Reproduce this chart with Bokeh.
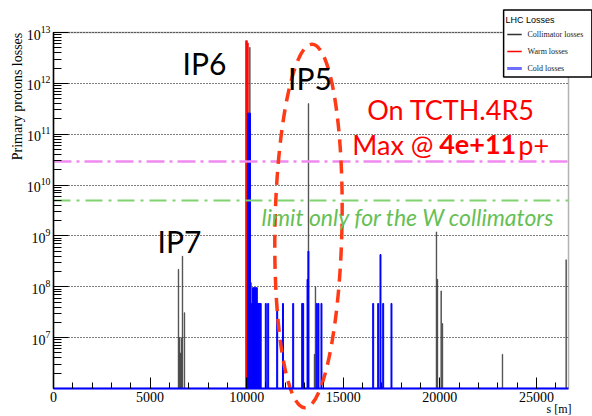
import math
from bokeh.plotting import figure
from bokeh.models import (Range1d, LogTicker, SingleIntervalTicker, Label,
                          BoxAnnotation)
from bokeh.embed import file_html
from bokeh.resources import INLINE

# ---------------- data ----------------
S_MAX = 26659          # ring length [m]
BIN_W = 50             # histogram bin width [m]
Y_LO, Y_HI = 1e6, 1e13 # plotted loss range

# collimator losses (s [m], protons)
coll_s = [6470, 6522, 6574, 6625, 6677, 6780, 10165, 13199, 13509, 13561,
          19824, 19876, 20067, 20135, 23241, 26537]
coll_v = [2.2e8, 1.0e7, 5.0e6, 1.0e7, 4.0e8, 3.1e7, 5.1e12, 4.0e11, 4.7e6, 1.0e8,
          1.2e9, 1.4e8, 8.3e7, 1.9e7, 4.7e6, 3.4e8]

# warm losses
warm_s = [9965, 10015, 10065, 10225]
warm_v = [6.9e12, 6.9e12, 6.2e12, 1.2e8]

# cold losses
cold_s = [10070, 10120, 10170,
          10275, 10325, 10375, 10425, 10475, 10525, 10575, 10625, 10675, 10725,
          10989, 11113, 11579, 11879, 12407, 12873, 12925, 13150, 13195,
          13629, 13716, 13871, 16548, 16807, 16926, 17066, 17495]
cold_v = [2.6e11, 2.6e11, 2.6e11,
          4.7e7, 9.6e7, 9.6e7, 9.6e7, 9.6e7, 9.6e7, 4.7e7, 4.7e7, 4.7e7, 4.7e7,
          4.7e7, 4.7e7, 4.7e7, 4.7e7, 4.7e7, 4.7e7, 4.7e7, 1.4e8, 5.0e8,
          4.7e7, 4.7e7, 4.7e7, 4.7e7, 4.7e7, 4.3e8, 4.7e7, 4.7e7]

# reference levels
LIMIT_PINK = 2.9e10
LIMIT_GREEN = 5.0e9

# legend entries
legend_title = "LHC Losses"
legend_labels = ["Collimator losses", "Warm losses", "Cold losses"]
legend_colors = ["#333333", "#ff0000", "#6f6fff"]
legend_sizes = ["1.5px", "1.5px", "2.5px"]

# ---------------- layout ----------------
W, H = 592, 416
BOX_L, BOX_R, BOX_T, BOX_B = 53, 568, 32, 388   # plot box in canvas px

m_per_px = S_MAX / (BOX_R - BOX_L)
dec_per_px = (math.log10(Y_HI) - math.log10(Y_LO)) / (BOX_B - BOX_T)
x_range = Range1d(-BOX_L * m_per_px, S_MAX + (W - BOX_R) * m_per_px)
y_range = Range1d(10 ** (math.log10(Y_LO) - (H - BOX_B) * dec_per_px),
                  10 ** (math.log10(Y_HI) + BOX_T * dec_per_px))

p = figure(width=W, height=H, y_axis_type="log", x_range=x_range,
           y_range=y_range, output_backend="svg", toolbar_location=None,
           min_border=0, min_border_left=0, min_border_right=0,
           min_border_top=0, min_border_bottom=0)
p.background_fill_color = "white"
p.border_fill_color = "white"
p.outline_line_color = None

# plot box
p.add_layout(BoxAnnotation(left=0, right=S_MAX, bottom=Y_LO, top=Y_HI,
                           fill_alpha=0, line_color="black", line_width=1.5,
                           level="underlay"))

# histograms
p.vbar(x=coll_s, top=coll_v, bottom=Y_LO, width=BIN_W * 0.6,
       fill_color="#3a3a3a", line_color="#3a3a3a", line_width=0.6)
p.vbar(x=warm_s, top=warm_v, bottom=Y_LO, width=BIN_W,
       fill_color="#ff0000", line_color="#ff0000", line_width=0.6)
p.vbar(x=cold_s, top=cold_v, bottom=Y_LO, width=BIN_W,
       fill_color="#0000ff", line_color="#0000ff", line_width=1)

# limit lines
p.line(x=[0, S_MAX], y=[LIMIT_PINK, LIMIT_PINK], line_color="#f08af0",
       line_width=2.5, line_dash="18 5 3 5")
p.line(x=[0, S_MAX], y=[LIMIT_GREEN, LIMIT_GREEN], line_color="#7fd46f",
       line_width=2, line_dash="17 6 3 6")

# axes (drawn at fixed positions inside the full-canvas frame)
xa = p.xaxis[0]
xa.fixed_location = Y_LO
xa.bounds = (0, S_MAX)
xa.ticker = SingleIntervalTicker(interval=5000, num_minor_ticks=5)
xa.major_tick_in = 11
xa.major_tick_out = 0
xa.minor_tick_in = 6
xa.minor_tick_out = 0
xa.major_tick_line_color = "black"
xa.minor_tick_line_color = "black"
xa.axis_line_color = "#0000ff"
xa.axis_line_width = 2
xa.major_label_text_font = "Liberation Serif"
xa.major_label_text_font_size = "14px"
xa.major_label_text_color = "black"
xa.major_label_standoff = 3

ya = p.yaxis[0]
ya.fixed_location = 0
ya.bounds = (Y_LO * 1.001, Y_HI)
ya.ticker = LogTicker(desired_num_ticks=8, num_minor_ticks=10)
ya.major_tick_in = 15
ya.major_tick_out = 0
ya.minor_tick_in = 8
ya.minor_tick_out = 0
ya.major_tick_line_color = "black"
ya.minor_tick_line_color = "black"
ya.axis_line_color = "black"
ya.axis_line_width = 1.5
ya.major_label_text_font = "Liberation Serif"
ya.major_label_text_font_size = "14px"
ya.major_label_text_color = "black"
ya.major_label_standoff = 3

p.xgrid.visible = False
p.ygrid.grid_line_color = "black"
p.ygrid.grid_line_dash = "1 2"
p.ygrid.grid_line_width = 1
try:
    p.ygrid[0].cross_bounds = (0, S_MAX)
except Exception:
    p.ygrid.visible = False
    decades = [10.0 ** k for k in range(7, 13)]
    p.multi_line(xs=[[0, S_MAX]] * len(decades), ys=[[d, d] for d in decades],
                 line_color="black", line_dash="1 2", line_width=1,
                 level="underlay")


def slabel(x, y, text, **kw):
    """Label in canvas pixels (x from left, y from bottom)."""
    p.add_layout(Label(x=x, y=y, x_units="screen", y_units="screen",
                       text=text, **kw))


# axis titles
slabel(17, H - 96, "Primary protons losses", angle=math.pi / 2,
       text_align="center", text_baseline="middle",
       text_font="Liberation Serif", text_font_size="14px", text_color="black")
slabel(571, 1, "s [m]", text_align="right", text_baseline="bottom",
       text_font="Liberation Serif", text_font_size="12px", text_color="black")

# IP5 highlight ellipse
p.ellipse(x=[13199], y=[1.57e9], width=67, height=364, width_units="screen",
          height_units="screen", angle=-0.02, fill_color=None,
          line_color="#ff3a16", line_width=3.5, line_dash="13 8")

# annotations
def txt(x, y, s, size, color="black", style="normal", font="Lato"):
    p.add_layout(Label(x=x, y=y, text=s, text_align="center",
                       text_baseline="middle", text_font=font,
                       text_font_size=size, text_color=color,
                       text_font_style=style))

txt(7816, 2.5e12, "IP6", "30px")
txt(13276, 1.25e12, "IP5", "30px")
txt(6522, 8.1e8, "IP7", "30px")
txt(20575, 3.06e11, "On TCTH.4R5", "27px", color="#ff0000")
txt(17565, 6.3e10, "Max @", "27px", color="#ff0000")
txt(21960, 6.3e10, "4e+11", "27px", color="#ff0000", style="bold")
txt(24860, 6.3e10, "p+", "27px", color="#ff0000")
txt(18375, 2.36e9, "limit only for the W collimators", "23px",
    color="#66bf55", style="italic")

# legend box and entries
slabel(547.25, H - 43, " ", text_font_size="1px", text_align="center",
       text_baseline="middle", padding=(44, 33),
       background_fill_color="white", background_fill_alpha=1,
       border_line_color="black", border_line_width=1.5)
slabel(505, H - 19, legend_title, text_align="left", text_baseline="middle",
       text_font="Liberation Sans", text_font_size="9px", text_color="black")
for i, (lab, col, sz) in enumerate(zip(legend_labels, legend_colors, legend_sizes)):
    yy = H - 34 - 17 * i
    slabel(514, yy, " ", text_font_size=sz, text_align="center",
           text_baseline="middle", padding=(7, 0),
           background_fill_color=col, background_fill_alpha=1)
    slabel(527, yy, lab, text_align="left", text_baseline="middle",
           text_font="Liberation Serif", text_font_size="8px",
           text_color="#222222")

open("out.html", "w").write(file_html(p, INLINE))
